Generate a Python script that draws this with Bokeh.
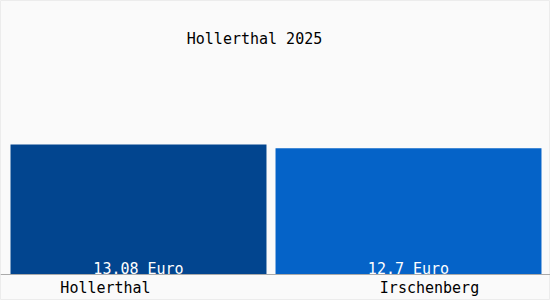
from bokeh.plotting import figure
from bokeh.models import ColumnDataSource, Range1d, Span
from bokeh.core.properties import value
from bokeh.embed import file_html
from bokeh.resources import INLINE

# ---- data ----
categories = ["Hollerthal", "Irschenberg"]
prices = [13.08, 12.7]
value_labels = ["13.08 Euro", "12.7 Euro"]
bar_colors = ["#02458F", "#0563C8"]
title_text = "Hollerthal 2025"

positions = [0, 1]
bar_widths = [0.948, 0.985]   # style: bar widths in slot units
label_dx = [-33, 21]          # style: label offsets in px

src = ColumnDataSource(dict(x=positions, top=prices, color=bar_colors, w=bar_widths,
                            vlab=value_labels, cat=categories, xo=label_dx,
                            zero=[0] * len(categories)))

FONT = value("DejaVu Sans Mono")

p = figure(width=550, height=300, output_backend="svg", toolbar_location=None,
           x_range=Range1d(-0.5111, 1.5259), y_range=Range1d(-2.616, 27.57),
           min_border_left=0, min_border_right=0, min_border_top=0, min_border_bottom=0)
p.axis.visible = False
p.grid.visible = False
p.background_fill_color = "#fafafa"
p.border_fill_color = "#fafafa"
p.outline_line_color = "#ececec"

p.vbar(x="x", top="top", bottom=0, width="w", color="color", line_color=None, source=src)

p.add_layout(Span(location=0, dimension="width", line_color="#aaaaaa", line_width=1))

# value labels inside bars
p.text(x="x", y="zero", text="vlab", source=src, text_font=FONT, text_font_size="15px",
       text_color="#ffffff", text_align="center", text_baseline="alphabetic", y_offset=-6)

# category labels below
p.text(x="x", y="zero", text="cat", source=src, text_font=FONT, text_font_size="15px",
       text_color="#000000", text_align="center", text_baseline="alphabetic",
       x_offset="xo", y_offset=13)

# title
p.text(x=[0.4296], y=[23.24], text=[title_text], text_font=FONT, text_font_size="15px",
       text_color="#000000", text_align="center", text_baseline="alphabetic", y_offset=-5)

open("out.html", "w").write(file_html(p, INLINE))
